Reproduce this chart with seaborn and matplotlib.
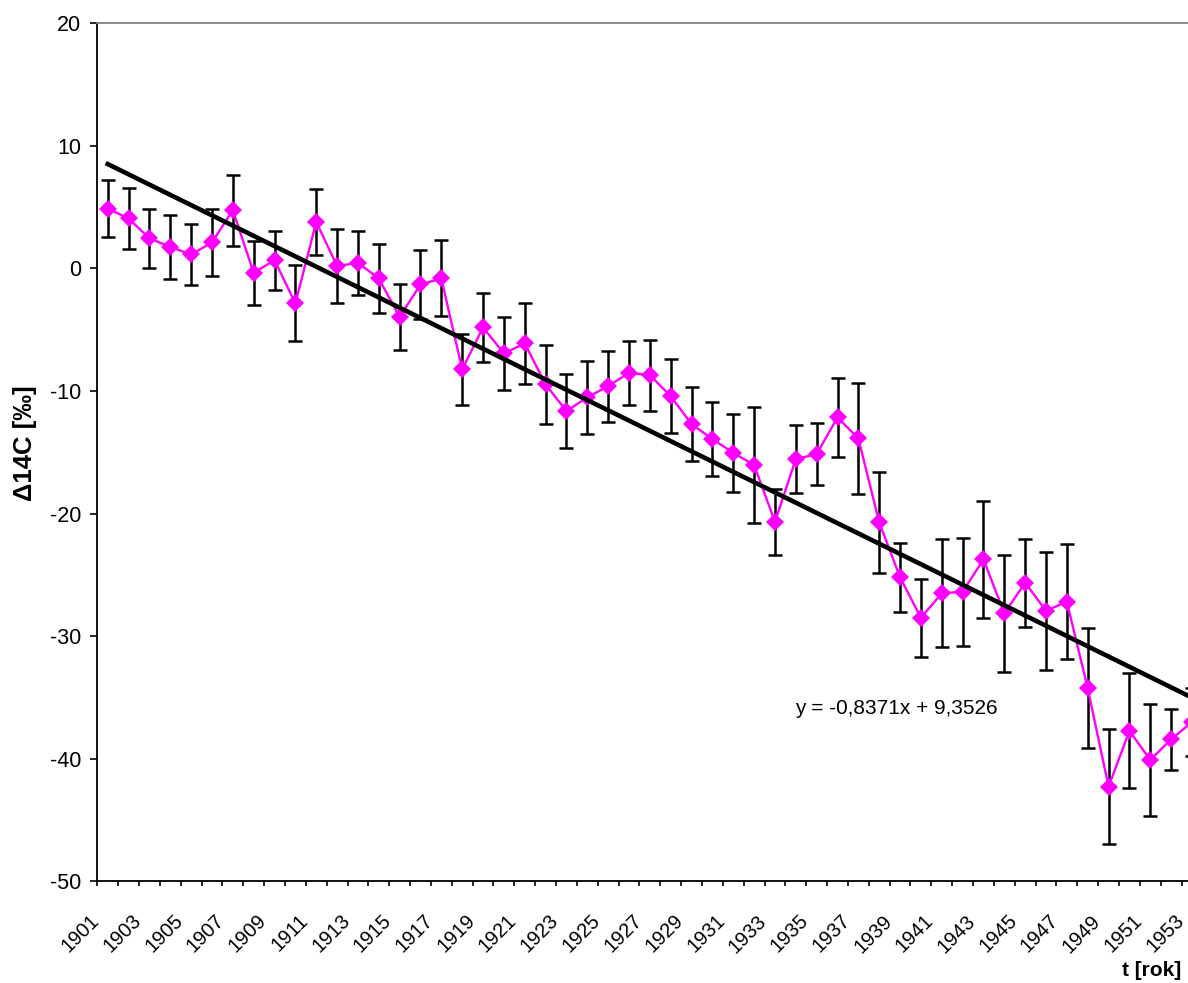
import matplotlib
matplotlib.use("Agg")
import matplotlib.pyplot as plt
import numpy as np
import pandas as pd
import seaborn as sns

# Radiocarbon record, one value per year
years = [1901, 1902, 1903, 1904, 1905, 1906, 1907, 1908, 1909, 1910,
         1911, 1912, 1913, 1914, 1915, 1916, 1917, 1918, 1919, 1920,
         1921, 1922, 1923, 1924, 1925, 1926, 1927, 1928, 1929, 1930,
         1931, 1932, 1933, 1934, 1935, 1936, 1937, 1938, 1939, 1940,
         1941, 1942, 1943, 1944, 1945, 1946, 1947, 1948, 1949, 1950,
         1951, 1952, 1953]

delta14c = [4.89, 4.08, 2.45, 1.76, 1.14, 2.12, 4.76, -0.36, 0.68, -2.85,
            3.80, 0.19, 0.46, -0.82, -3.95, -1.31, -0.82, -8.24, -4.81, -6.93,
            -6.12, -9.46, -11.64, -10.52, -9.60, -8.52, -8.70, -10.42, -12.70, -13.92,
            -15.04, -16.04, -20.67, -15.55, -15.15, -12.15, -13.87, -20.72, -25.20, -28.50,
            -26.50, -26.38, -23.74, -28.14, -25.64, -27.93, -27.19, -34.26, -42.28, -37.72,
            -40.10, -38.42, -37.00]

sigma = [2.3, 2.5, 2.4, 2.6, 2.5, 2.7, 2.9, 2.6, 2.4, 3.1,
         2.7, 3.0, 2.6, 2.8, 2.7, 2.8, 3.1, 2.9, 2.8, 3.0,
         3.3, 3.2, 3.0, 3.0, 2.9, 2.6, 2.9, 3.0, 3.0, 3.05,
         3.2, 4.7, 2.7, 2.8, 2.5, 3.2, 4.5, 4.1, 2.8, 3.2,
         4.4, 4.4, 4.8, 4.8, 3.6, 4.8, 4.7, 4.9, 4.7, 4.7,
         4.6, 2.5, 2.8]

# Linear trend (x = running index 1..N)
trend_slope = -0.8371
trend_intercept = 9.3526

y_ticks = [-50, -40, -30, -20, -10, 0, 10, 20]

plt.rcParams['font.family'] = ['Liberation Sans', 'DejaVu Sans']
plt.rcParams['axes.unicode_minus'] = False

df = pd.DataFrame({
    'pos': np.arange(len(years)),
    'year': years,
    'd14c': delta14c,
    'err': sigma,
})
df['trend'] = trend_slope * (df['pos'] + 1) + trend_intercept

W, H = 1188, 983
fig = plt.figure(figsize=(W / 100, H / 100), dpi=100)
left_px, right_px, top_px, bottom_px = 97.3, 1202.4, 23.3, 881.3
ax = fig.add_axes([left_px / W, 1 - bottom_px / H,
                   (right_px - left_px) / W, (bottom_px - top_px) / H])

# error bars
ax.errorbar(df['pos'], df['d14c'], yerr=df['err'], fmt='none',
            ecolor='black', elinewidth=1.8, capsize=5, capthick=1.8, zorder=2)

# measured series
sns.lineplot(data=df, x='pos', y='d14c', ax=ax, color='#FF00FF',
             linewidth=1.7, marker='D', markersize=9, markeredgewidth=0,
             markerfacecolor='#FF00FF', zorder=3)

# trend line
sns.lineplot(data=df, x='pos', y='trend', ax=ax, color='black',
             linewidth=3.3, zorder=4)

# spines
for side in ['left', 'bottom']:
    ax.spines[side].set_color('black')
    ax.spines[side].set_linewidth(1.3)
for side in ['top', 'right']:
    ax.spines[side].set_color('#808080')
    ax.spines[side].set_linewidth(1.3)

# y axis
ax.set_yticks(y_ticks)
ax.set_yticklabels([str(v) for v in y_ticks])
ax.tick_params(axis='y', direction='out', length=4.75, width=1.2,
               pad=7.0, labelsize=15.5, colors='black')

# x axis: tick marks between categories
ax.set_xticks([])
ax.set_xticks(np.arange(-0.5, len(years), 1.0), minor=True)
ax.tick_params(axis='x', which='minor', direction='out', length=3.8,
               width=1.2, color='black', labelbottom=False)

ax.set_xlim(-0.5, len(years) - 0.5)
ax.set_ylim(-50, 20)

# rotated year labels, every second category
for p, yr in zip(df['pos'][::2], years[::2]):
    ax.annotate(str(yr), xy=(p, 0), xycoords=('data', 'axes fraction'),
                xytext=(-17.9, -29.9), textcoords='offset pixels',
                rotation=45, rotation_mode='anchor', ha='right', va='top',
                fontsize=14.5, annotation_clip=False)

ax.set_xlabel('')
ax.set_ylabel('Δ14C [‰]', fontsize=18.5, fontweight='bold')
ax.yaxis.set_label_coords(-0.055, 0.511)

fig.text(1181.7 / W, 1 - 970.4 / H, 't [rok]', ha='right', va='center',
         fontsize=15, fontweight='bold')

eq = f"y = {trend_slope:.4f}x + {trend_intercept:.4f}".replace('.', ',')
fig.text(795 / W, 1 - 708 / H, eq, ha='left', va='center', fontsize=15)

fig.savefig('out.png', dpi=100)
